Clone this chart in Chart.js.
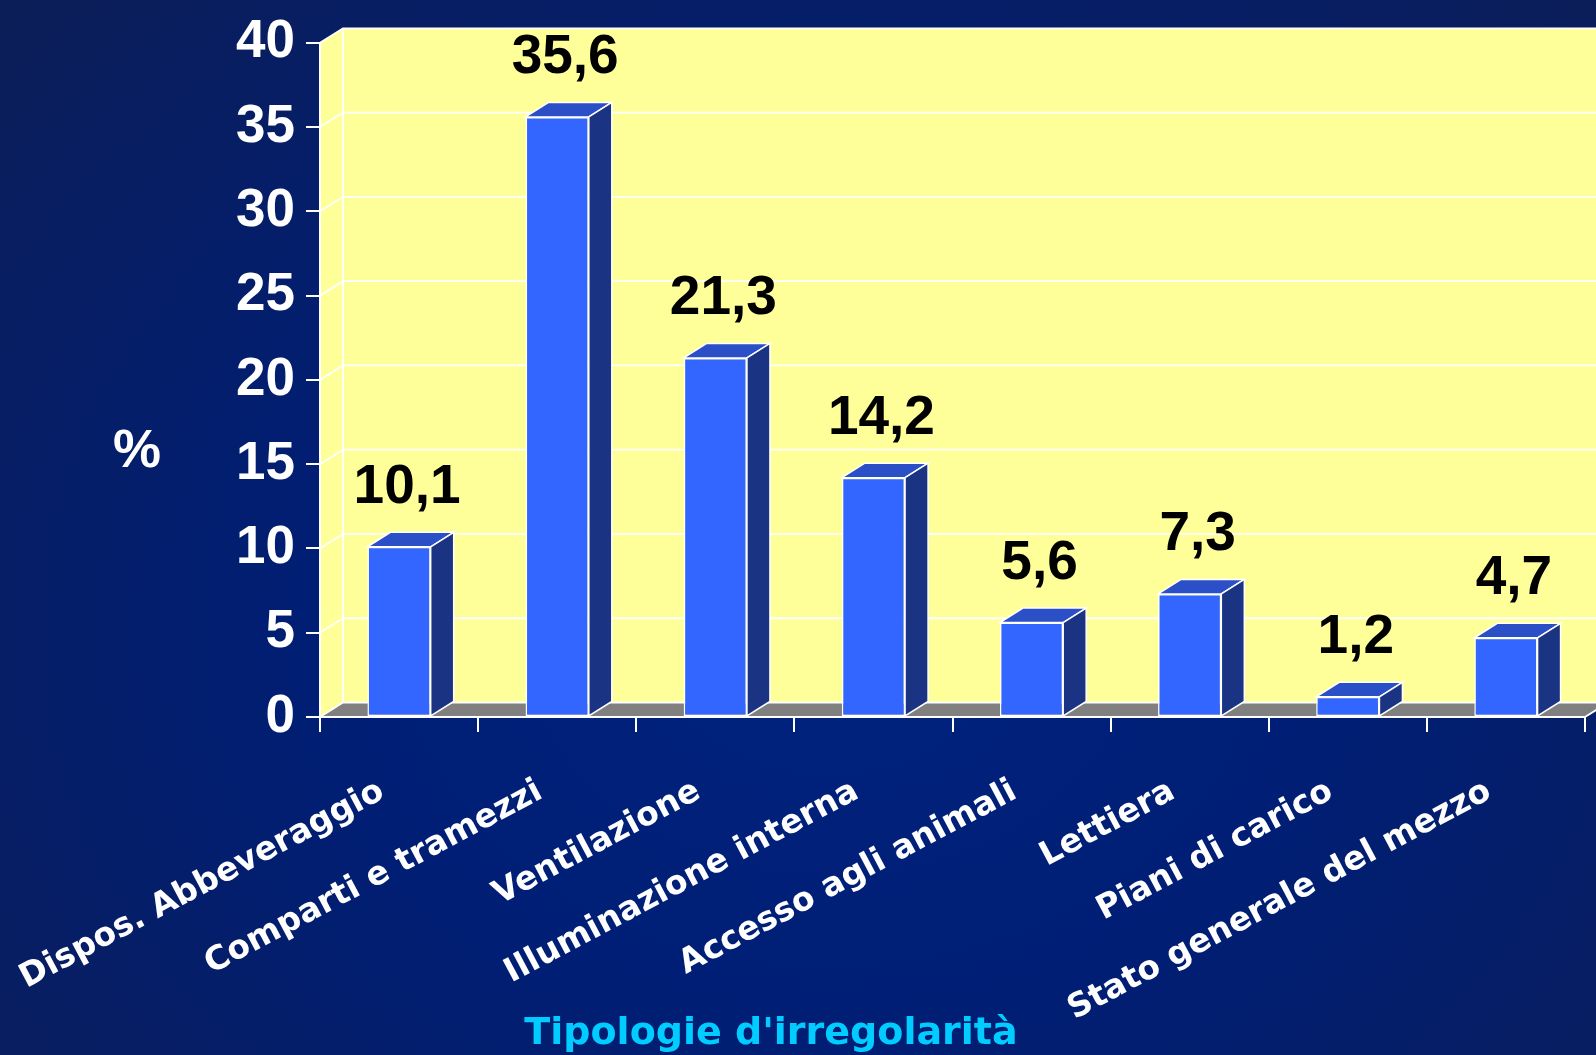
<!DOCTYPE html>
<html><head><meta charset="utf-8">
<script src="https://cdn.jsdelivr.net/npm/chart.js@4.4.0/dist/chart.umd.min.js"></script>
<style>
html,body{margin:0;padding:0;width:1596px;height:1055px;overflow:hidden;}
body{background: radial-gradient(ellipse 72% 85% at 52% 60%, #00227f 0%, #001e74 45%, #0c1e58 100%);}
canvas{display:block;}
</style></head><body>
<canvas id="c" width="1596" height="1055"></canvas>
<script>
const categories = ["Dispos. Abbeveraggio","Comparti e tramezzi","Ventilazione","Illuminazione interna","Accesso agli animali","Lettiera","Piani di carico","Stato generale del mezzo"];
const percentages = [10.1,35.6,21.3,14.2,5.6,7.3,1.2,4.7];
const yTicks = [0,5,10,15,20,25,30,35,40];
const xTitle = "Tipologie d'irregolarità";
const yTitle = "%";

const DX = 23, DY = 14.5;
function fmt(v){ return v.toFixed(1).replace('.', ','); }
function poly(ctx, pts){ ctx.beginPath(); ctx.moveTo(pts[0][0],pts[0][1]); for(let i=1;i<pts.length;i++) ctx.lineTo(pts[i][0],pts[i][1]); ctx.closePath(); }

const walls = {
  id:'walls',
  beforeDraw(chart){
    const {ctx, chartArea:a, scales:{x,y}} = chart;
    const y0 = y.getPixelForValue(yTicks[0]), yT = y.getPixelForValue(yTicks[yTicks.length-1]);
    ctx.save();
    ctx.fillStyle = '#FFFF99';
    poly(ctx, [[a.left,y0],[a.left,yT],[a.left+DX,yT-DY],[a.left+DX,y0-DY]]); ctx.fill();
    ctx.fillRect(a.left+DX, yT-DY, a.right-a.left, y0-yT);
    ctx.fillStyle = '#808080';
    poly(ctx, [[a.left,y0],[a.right,y0],[a.right+DX,y0-DY],[a.left+DX,y0-DY]]); ctx.fill();
    ctx.strokeStyle = '#FFFFFF'; ctx.lineWidth = 1.8;
    y.ticks.forEach(t=>{
      const py = y.getPixelForValue(t.value);
      ctx.beginPath(); ctx.moveTo(a.left,py); ctx.lineTo(a.left+DX,py-DY); ctx.lineTo(a.right+DX,py-DY); ctx.stroke();
    });
    ctx.beginPath(); ctx.moveTo(a.left+DX,yT-DY); ctx.lineTo(a.left+DX,y0-DY); ctx.stroke();
    ctx.beginPath(); ctx.moveTo(a.right,y0); ctx.lineTo(a.right+DX,y0-DY); ctx.stroke();
    ctx.restore();
  }
};

const bars3d = {
  id:'bars3d',
  afterDatasetsDraw(chart){
    const {ctx} = chart;
    const meta = chart.getDatasetMeta(0);
    ctx.save();
    ctx.lineWidth = 1.5; ctx.strokeStyle = '#FFFFFF'; ctx.lineJoin = 'miter';
    meta.data.forEach(bar=>{
      const {x,y,base,width} = bar.getProps(['x','y','base','width'], true);
      const l = x-width/2, r = x+width/2;
      ctx.fillStyle = '#2a4fc6';
      poly(ctx, [[l,y],[r,y],[r+DX,y-DY],[l+DX,y-DY]]); ctx.fill(); ctx.stroke();
      ctx.fillStyle = '#1b3383';
      poly(ctx, [[r,y],[r+DX,y-DY],[r+DX,base-DY],[r,base]]); ctx.fill(); ctx.stroke();
    });
    ctx.fillStyle = '#000000';
    ctx.font = 'bold 55px "Liberation Sans", Arial, sans-serif';
    ctx.textAlign = 'center'; ctx.textBaseline = 'alphabetic';
    meta.data.forEach((bar,i)=>{
      ctx.fillText(fmt(percentages[i]), bar.x+8, bar.y-44);
    });
    ctx.restore();
  }
};

const titles = {
  id:'titles',
  afterDraw(chart){
    const {ctx} = chart;
    ctx.save();
    ctx.fillStyle = '#FFFFFF';
    ctx.font = 'bold 54px "Liberation Sans", Arial, sans-serif';
    ctx.textAlign = 'center'; ctx.textBaseline = 'middle';
    ctx.fillText(yTitle, 137, 452);
    ctx.fillStyle = '#00CCFF';
    ctx.font = 'bold 38px "DejaVu Sans", sans-serif';
    ctx.textBaseline = 'alphabetic';
    ctx.fillText(xTitle, 771, 1044);
    ctx.restore();
  }
};

new Chart(document.getElementById('c'), {
  type:'bar',
  data:{labels:categories, datasets:[{data:percentages, backgroundColor:'#3366FF', borderColor:'#FFFFFF', borderWidth:1.5, borderSkipped:false, barPercentage:1, categoryPercentage:0.4}]},
  options:{
    responsive:false, animation:false, devicePixelRatio:1,
    layout:{padding:{left:0, top:34.5, right:11, bottom:0}},
    plugins:{legend:{display:false}, tooltip:{enabled:false}},
    scales:{
      x:{
        grid:{display:true, drawOnChartArea:false, drawTicks:true, tickLength:15, color:'#FFFFFF', lineWidth:2, offset:true},
        border:{color:'#FFFFFF', width:2},
        ticks:{color:'#FFFFFF', font:{family:'DejaVu Sans', weight:'bold', size:33}, maxRotation:28, minRotation:28, autoSkip:false, padding:40, labelOffset:-17},
        afterFit(s){ s.height = 1055-717; s.paddingLeft = 0; s.paddingRight = 0; }
      },
      y:{
        min:0, max:40,
        afterBuildTicks(s){ s.ticks = yTicks.map(v=>({value:v})); },
        ticks:{color:'#FFFFFF', font:{family:'Liberation Sans', weight:'bold', size:53}, padding:11},
        grid:{drawOnChartArea:false, drawTicks:true, tickLength:14, color:'#FFFFFF', lineWidth:2},
        border:{color:'#FFFFFF', width:2},
        afterFit(s){ s.width = 320; }
      }
    }
  },
  plugins:[walls, bars3d, titles]
});
</script>
</body></html>
